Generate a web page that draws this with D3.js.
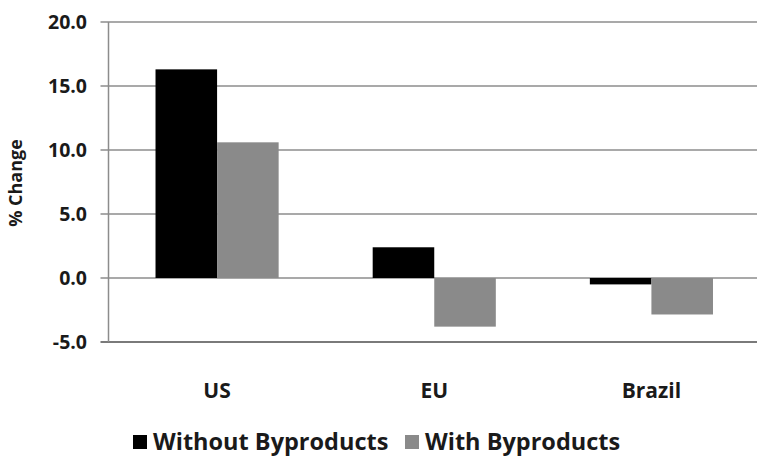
<!DOCTYPE html>
<html>
<head>
<meta charset="utf-8">
<script src="https://cdn.jsdelivr.net/npm/d3@7"></script>
<style>
	body { margin: 0; background: #fff; }
	text { font-family: "Open Sans", sans-serif; font-weight: 700; fill: #1a1a1a; }
</style>
</head>
<body>
<script>
// chart data
var regions = ["US", "EU", "Brazil"];
var seriesNames = ["Without Byproducts", "With Byproducts"];
var withoutByproducts = [16.3, 2.4, -0.5];
var withByproducts = [10.6, -3.8, -2.85];
var yTicks = [-5, 0, 5, 10, 15, 20];
var seriesColors = ["#000000", "#8a8a8a"];

var width = 757, height = 461;
var margin = { top: 22, right: -3, bottom: 119, left: 108.5 };

var svg = d3.select("body").append("svg")
	.attr("width", width)
	.attr("height", height);

var x = d3.scaleBand()
	.domain(regions)
	.range([margin.left, width - margin.right])
	.paddingInner(0.433)
	.paddingOuter(0.2165);

var xs = d3.scaleBand()
	.domain(seriesNames)
	.range([0, x.bandwidth()]);

var y = d3.scaleLinear()
	.domain([-5, 20])
	.range([height - margin.bottom, margin.top]);

// gridlines
svg.append("g")
	.selectAll("line")
	.data(yTicks)
	.enter().append("line")
	.attr("x1", margin.left - 8)
	.attr("x2", width)
	.attr("y1", function (d) { return y(d); })
	.attr("y2", function (d) { return y(d); })
	.attr("stroke", function (d) { return d === -5 ? "#7a7a7a" : "#8c8c8c"; })
	.attr("stroke-width", function (d) { return d === -5 ? 2 : 1.5; });

// y axis line
svg.append("line")
	.attr("x1", margin.left).attr("x2", margin.left)
	.attr("y1", y(20)).attr("y2", y(-5))
	.attr("stroke", "#8c8c8c")
	.attr("stroke-width", 1.5);

// bars
var rows = regions.map(function (r, i) {
	return { region: r, values: [withoutByproducts[i], withByproducts[i]] };
});

var group = svg.append("g")
	.selectAll("g")
	.data(rows)
	.enter().append("g")
	.attr("transform", function (d) { return "translate(" + x(d.region) + ",0)"; });

group.selectAll("rect")
	.data(function (d) {
		return d.values.map(function (v, j) { return { name: seriesNames[j], value: v, i: j }; });
	})
	.enter().append("rect")
	.attr("x", function (d) { return xs(d.name); })
	.attr("width", xs.bandwidth())
	.attr("y", function (d) { return y(Math.max(0, d.value)); })
	.attr("height", function (d) { return Math.abs(y(d.value) - y(0)); })
	.attr("fill", function (d) { return seriesColors[d.i]; });

// y tick labels
svg.append("g")
	.selectAll("text")
	.data(yTicks)
	.enter().append("text")
	.attr("x", 87)
	.attr("y", function (d) { return y(d); })
	.attr("dy", "0.36em")
	.attr("text-anchor", "end")
	.style("font-size", "19.5px")
	.text(function (d) { return d.toFixed(1); });

// y axis title
svg.append("text")
	.attr("transform", "translate(22," + 183 + ") rotate(-90)")
	.attr("text-anchor", "middle")
	.style("font-size", "18px")
	.text("% Change");

// category labels
svg.append("g")
	.selectAll("text")
	.data(regions)
	.enter().append("text")
	.attr("x", function (d) { return x(d) + x.bandwidth() / 2; })
	.attr("y", 398)
	.attr("text-anchor", "middle")
	.style("font-size", "21px")
	.text(function (d) { return d; });

// legend
var legendX = [133, 405];
var legend = svg.append("g")
	.selectAll("g")
	.data(seriesNames)
	.enter().append("g")
	.attr("transform", function (d, i) { return "translate(" + legendX[i] + ",442)"; });

legend.append("rect")
	.attr("x", 0).attr("y", -7)
	.attr("width", 14).attr("height", 14)
	.attr("fill", function (d, i) { return seriesColors[i]; });

legend.append("text")
	.attr("x", 20)
	.attr("y", 0)
	.attr("dy", "0.36em")
	.style("font-size", "23.5px")
	.text(function (d) { return d; });
</script>
</body>
</html>
